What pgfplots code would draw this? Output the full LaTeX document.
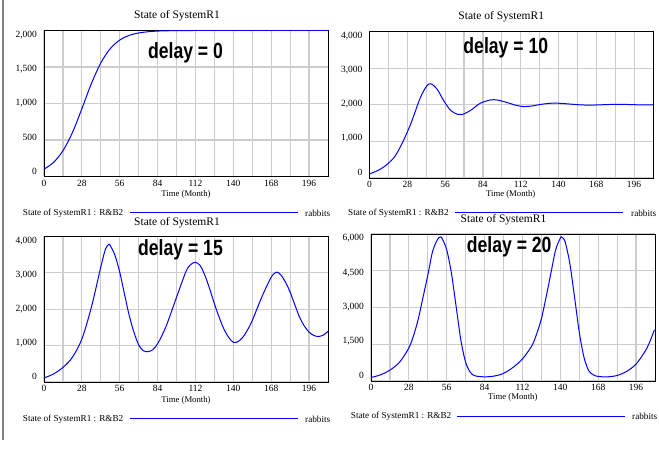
\documentclass[border=0pt]{standalone}
\usepackage{fontspec}
\setmainfont{Liberation Serif}
\newfontfamily\delayfont{Liberation Sans}
\usepackage{graphicx}
\usepackage{pgfplots}
\pgfplotsset{compat=1.18}

\pgfplotsset{vensim/.style={
  scale only axis, xmin=0, xmax=210, ymin=0,
  xtick={0,28,...,196}, minor xtick={14,42,...,182},
  grid=both,
  major grid style={draw=black!20, line width=1.2pt},
  minor grid style={draw=black!20, line width=1.2pt},
  axis line style={black, line width=0.9pt},
  major tick length=0pt, minor tick length=0pt,
  scaled y ticks=false,
  /pgf/number format/assume math mode=true,
  /pgf/number format/1000 sep={,},
  tick label style={font=\fontsize{9.5}{10}\selectfont},
  yticklabel style={xshift=-3.5pt, yshift={(2.2-\ticknum)*2.5pt}},
  every axis plot/.append style={blue, line width=1pt, smooth, tension=0.5, no marks},
}}

\begin{document}
\begin{tikzpicture}
\path[use as bounding box] (0pt,0pt) rectangle (659pt,454pt);
\draw[black!50, line width=2pt] (3pt,454pt) -- (3pt,14pt);

% Panel 1: delay = 0
\begin{axis}[vensim, at={(44pt,277.5pt)}, anchor=south west,
  width=284pt, height=146pt, ymax=2000, ytick={0,500,...,2000}]
\addplot coordinates {(0,100) (7,192) (14,352) (21,601) (28,928) (35,1271) (42,1556)
 (49,1752) (56,1869) (63,1933) (70,1966) (77,1983) (84,1992) (91,1996) (98,1998)
 (105,1999) (112,2000) (140,2000) (175,2000) (210,2000)};
\end{axis}

% Panel 2: delay = 10
\begin{axis}[vensim, at={(369.5pt,276pt)}, anchor=south west,
  width=283.5pt, height=146.5pt, ymax=4000, ytick={0,1000,...,4000}]
\addplot coordinates {(0,110) (7,220) (13,370) (19,600) (25,1010) (31,1520) (37.5,2180)
 (42.5,2520) (45.5,2570) (50,2430) (55,2110) (60,1850) (65,1740) (68.5,1730) (75,1850)
 (82,2040) (89.5,2130) (94.5,2130) (102,2060) (108,1990) (114,1950) (120,1965)
 (127,2010) (134,2040) (141,2040) (148,2020) (155,2000) (162,1990) (169,1995)
 (176,2005) (183,2010) (190,2008) (197,2000) (204,1998) (210,2000)};
\end{axis}

% Panel 3: delay = 15
\begin{axis}[vensim, at={(44pt,72pt)}, anchor=south west,
  width=284pt, height=145.5pt, ymax=4000, ytick={0,1000,...,4000}]
\addplot coordinates {(0,110) (7,220) (14,400) (21,680) (28,1180) (35,2050) (42,3160)
 (45.5,3660) (48,3780) (49,3750) (52.5,3480) (56,3020) (59.5,2420) (63,1830)
 (66.5,1370) (70,1020) (73.5,860) (77,835) (80.5,890) (84,1050) (87.5,1300) (91,1600)
 (98,2330) (105,3040) (108.5,3230) (112,3290) (115.5,3200) (119,2930) (122.5,2560)
 (126,2150) (129.5,1780) (133,1460) (136.5,1230) (140,1090) (143.5,1110) (147,1230)
 (150.5,1430) (154,1690) (161,2330) (168,2880) (172,3020) (175,2950) (178.5,2750)
 (182,2470) (185.5,2120) (189,1780) (192.5,1540) (196,1370) (199.5,1280) (203,1250)
 (206.5,1290) (210,1390)};
\end{axis}

% Panel 4: delay = 20
\begin{axis}[vensim, at={(371pt,73pt)}, anchor=south west,
  width=284pt, height=147pt, ymax=6000, ytick={0,1500,...,6000}]
\addplot coordinates {(0,144) (7,250) (14,445) (21,760) (28,1350) (31.5,1860) (35,2540)
 (38.5,3430) (42,4320) (45.5,5280) (49,5760) (51,5870) (52.5,5830) (56,5350)
 (59.5,4390) (63,3020) (66.5,1650) (70,760) (73.5,350) (77,210) (84,170) (91,200)
 (98,310) (105,555) (112,900) (119,1445) (122.5,1925) (126,2540) (129.5,3430)
 (133,4390) (136.5,5350) (140,5830) (141,5870) (143.5,5690) (147,4800) (150.5,3430)
 (154,1990) (157.5,965) (161,420) (164.5,250) (168,185) (175,170) (182,225)
 (189,390) (196,690) (203,1240) (206.5,1650) (209.6,2090)};
\end{axis}

% titles
\begin{scope}[every node/.style={font=\fontsize{11.5}{12}\selectfont, inner sep=0pt}]
\node at (177pt,438pt) {State of SystemR1};
\node at (501.3pt,437.3pt) {State of SystemR1};
\node at (177pt,231.3pt) {State of SystemR1};
\node at (503.5pt,234pt) {State of SystemR1};
\end{scope}
% x labels
\begin{scope}[every node/.style={font=\fontsize{8.7}{9}\selectfont, inner sep=0pt}]
\node at (186pt,259.7pt) {Time (Month)};
\node at (510.7pt,259.7pt) {Time (Month)};
\node at (186pt,54pt) {Time (Month)};
\node at (512.8pt,56.3pt) {Time (Month)};
\end{scope}
% legends
\begin{scope}[every node/.style={font=\fontsize{9.2}{10}\selectfont, inner sep=0pt, anchor=west}]
\node at (22.7pt,241pt) {State of SystemR1 : R\&B2};
\node at (305pt,241pt) {rabbits};
\draw[blue, line width=0.9pt] (130pt,242pt) -- (298pt,242pt);
\node at (348pt,241pt) {State of SystemR1 : R\&B2};
\node at (631pt,241pt) {rabbits};
\draw[blue, line width=0.9pt] (455pt,241.7pt) -- (623pt,241.7pt);
\node at (22.7pt,34.7pt) {State of SystemR1 : R\&B2};
\node at (305pt,34.7pt) {rabbits};
\draw[blue, line width=0.9pt] (130pt,35.7pt) -- (298pt,35.7pt);
\node at (350.7pt,37.3pt) {State of SystemR1 : R\&B2};
\node at (632pt,37.3pt) {rabbits};
\draw[blue, line width=0.9pt] (457pt,38pt) -- (625pt,38pt);
\end{scope}
% delay annotations
\begin{scope}[every node/.style={font=\delayfont\bfseries\fontsize{22}{24}\selectfont, inner sep=0pt, anchor=base}]
\node at (185.5pt,395.7pt) {\scalebox{0.8}[1]{delay = 0}};
\node at (505.8pt,400.7pt) {\scalebox{0.8}[1]{delay = 10}};
\node at (180.5pt,198pt) {\scalebox{0.8}[1]{delay = 15}};
\node at (509.2pt,201.3pt) {\scalebox{0.8}[1]{delay = 20}};
\end{scope}
\end{tikzpicture}
\end{document}
